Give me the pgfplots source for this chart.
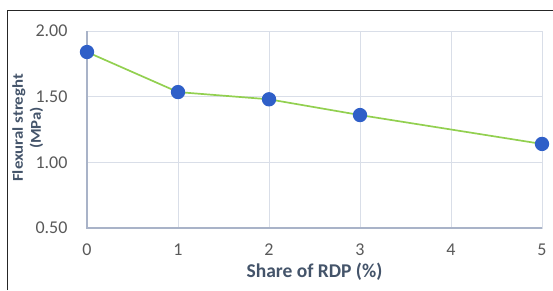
\documentclass[border=0pt]{standalone}
\usepackage{pgfplots}
\pgfplotsset{compat=1.18}
\usepackage{fontspec}
\setmainfont{Carlito}
\definecolor{gridc}{HTML}{D9DEE8}
\definecolor{axc}{HTML}{A9B3C8}
\definecolor{tickc}{HTML}{595959}
\definecolor{labc}{HTML}{44546A}
\definecolor{linec}{HTML}{92D050}
\definecolor{markc}{HTML}{2F5FC8}
\begin{document}
\begin{tikzpicture}[x=1pt,y=1pt]
\useasboundingbox (0,0) rectangle (553,290);
\draw[line width=1pt, black!85] (7,0) -- (7,279) -- (553,279);
\begin{axis}[
  at={(87pt,62pt)}, anchor=south west,
  scale only axis, width=455pt, height=197pt,
  xmin=0, xmax=5, ymin=0.5, ymax=2,
  xtick={0,1,2,3,4,5}, ytick={0.5,1,1.5,2},
  yticklabel style={/pgf/number format/fixed, /pgf/number format/fixed zerofill, /pgf/number format/precision=2, anchor=east, xshift=-16pt},
  /pgf/number format/assume math mode=true,
  ticklabel style={font=\fontsize{18}{20}\selectfont, text=tickc},
  tick style={draw=none},
  grid=major, grid style={gridc, line width=1pt},
  axis line style={gridc, line width=1pt},
  xtick pos=bottom, ytick pos=left,
  xticklabel style={anchor=center, yshift=-22pt},
  xlabel={Share of RDP (\%)},
  xlabel style={at={(axis description cs:0.5,-0.223)}, anchor=center, font=\fontsize{19.5}{22}\selectfont\bfseries, text=labc},
  ylabel={Flexural streght\\[2pt](MPa)},
  ylabel style={at={(axis description cs:-0.13,0.508)}, anchor=center, xscale=1.12, font=\fontsize{15}{16}\selectfont\bfseries, text=labc, align=center},
  clip=false,
]
\draw[axc, line width=1.2pt] (axis cs:0,2) -- (axis cs:0,0.5) -- (axis cs:5,0.5);
\addplot[linec, line width=1.7pt, mark=*, mark size=6.3pt, mark options={fill=markc, draw=markc}]
coordinates {(0,1.84) (1,1.535) (2,1.48) (3,1.36) (5,1.14)};
\end{axis}
\end{tikzpicture}
\end{document}
